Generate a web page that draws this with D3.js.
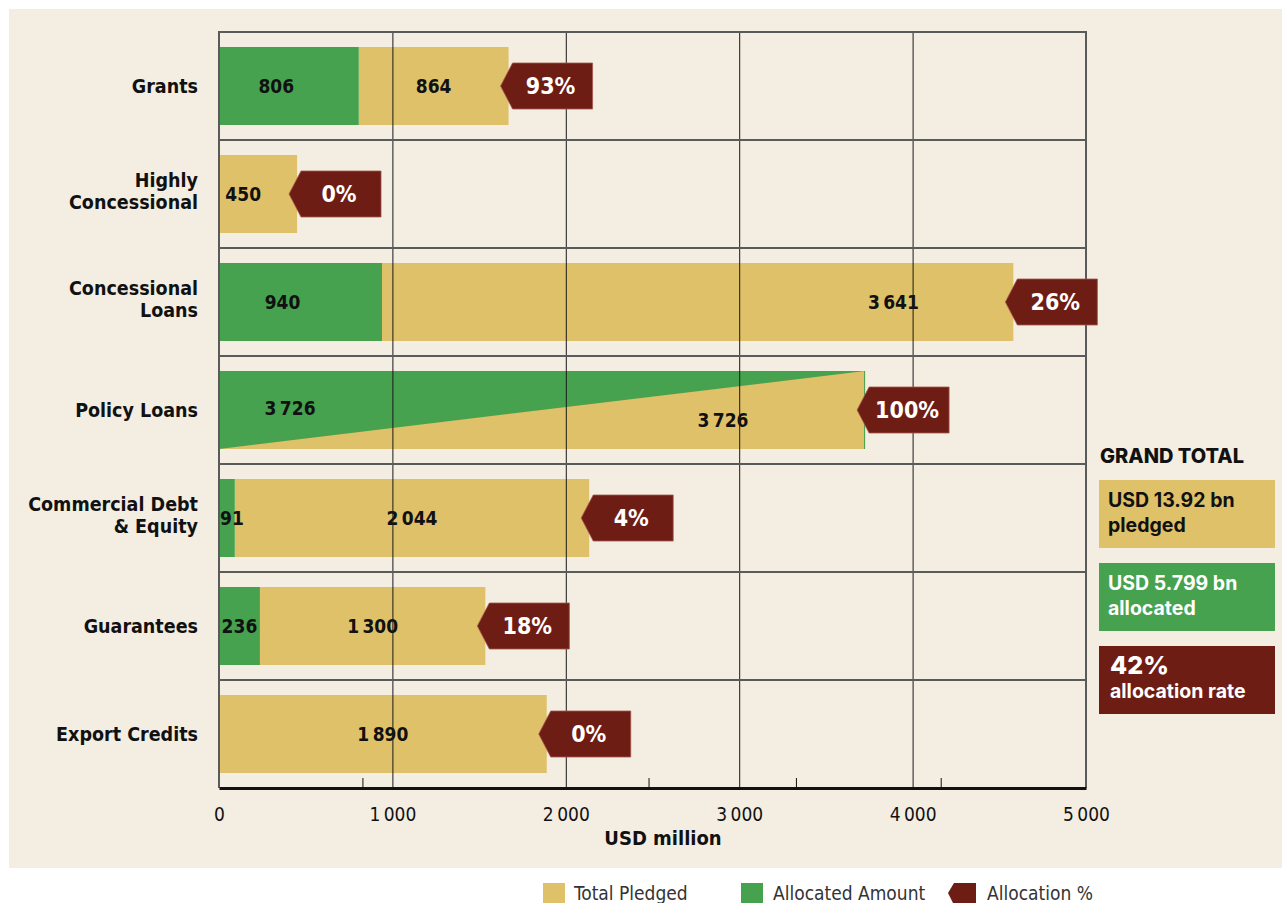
<!DOCTYPE html>
<html><head><meta charset="utf-8">
<script src="https://cdn.jsdelivr.net/npm/d3@7"></script>
<style>
body{margin:0;background:#fff;}
svg{display:block;}
</style></head><body>
<svg id="chart" width="1282" height="903"></svg>
<script>
// ---------- DATA ----------
const categories = ["Grants", "Highly Concessional", "Concessional Loans", "Policy Loans",
                    "Commercial Debt & Equity", "Guarantees", "Export Credits"];
const allocated = [806, 0, 940, 3726, 91, 236, 0];
const pledged = [864, 450, 3641, 3726, 2044, 1300, 1890];
const allocationPct = [93, 0, 26, 100, 4, 18, 0];
const xTicks = [0, 1000, 2000, 3000, 4000, 5000];
const minorTicks = [830, 2480, 3330, 4165];
const axisTitle = "USD million";
const totalsTitle = "GRAND TOTAL";
const totalPledgedText = ["USD 13.92 bn", "pledged"];
const totalAllocatedText = ["USD 5.799 bn", "allocated"];
const totalRateText = ["42%", "allocation rate"];
const legendItems = ["Total Pledged", "Allocated Amount", "Allocation %"];

// ---------- STYLE ----------
const C = {bg: "#f3ede2", yellow: "#dfc169", green: "#46a24f", red: "#6e1d15", grid: "#1a1a1a", sep: "#5a5a5a"};
const condensed = "'Liberation Sans Narrow','DejaVu Sans Condensed','Roboto Condensed',Roboto,sans-serif";
const panelFont = "Inter,'Noto Sans',sans-serif";
const wrap = {"Highly Concessional": ["Highly", "Concessional"],
              "Concessional Loans": ["Concessional", "Loans"],
              "Commercial Debt & Equity": ["Commercial Debt", "& Equity"]};
const labelFrac = {"Grants": [0.41, 0.5], "Highly Concessional": [0.5, 0.31],
                   "Concessional Loans": [0.39, 0.81], "Policy Loans": [0.11, 0.78]};
const fmt = v => d3.format(",")(v).replace(/,/g, "\u2009");

const svg = d3.select("#chart");
svg.append("rect").attr("x", 9).attr("y", 9).attr("width", 1273).attr("height", 859).attr("fill", C.bg);

const x = d3.scaleLinear().domain([0, 5000]).range([219, 1086]);
const y = d3.scaleBand().domain(categories).range([32, 788]);
const barH = 78, off = (y.bandwidth() - barH) / 2;

const rows = categories.map((c, i) => {
  const a = allocated[i], p = pledged[i];
  const full = a > 0 && a === p;
  return {c, a, p, pct: allocationPct[i], full, end: full ? p : a + p,
          top: y(c) + off, cy: y(c) + y.bandwidth() / 2};
});

const gBars = svg.append("g");
// yellow (pledged) segments
gBars.selectAll("rect.pl").data(rows).join("rect").attr("class", "pl")
  .attr("x", d => x(d.full ? 0 : d.a)).attr("y", d => d.top)
  .attr("width", d => x(d.end) - x(d.full ? 0 : d.a)).attr("height", barH)
  .attr("fill", C.yellow);
// green (allocated) stacked segments
gBars.selectAll("rect.al").data(rows.filter(d => d.a > 0 && !d.full)).join("rect").attr("class", "al")
  .attr("x", x(0)).attr("y", d => d.top)
  .attr("width", d => x(d.a) - x(0)).attr("height", barH).attr("fill", C.green);
// fully allocated: diagonal split
gBars.selectAll("path.tri").data(rows.filter(d => d.full)).join("path").attr("class", "tri")
  .attr("d", d => `M${x(0)},${d.top}L${x(d.a)},${d.top}L${x(0)},${d.top + barH}Z`)
  .attr("fill", C.green);
gBars.selectAll("line.edge").data(rows.filter(d => d.full)).join("line").attr("class", "edge")
  .attr("x1", d => x(d.a) - 0.5).attr("x2", d => x(d.a) - 0.5)
  .attr("y1", d => d.top).attr("y2", d => d.top + barH).attr("stroke", C.green).attr("stroke-width", 1);

// value labels
const labels = [];
rows.forEach(d => {
  const fr = labelFrac[d.c] || [0.5, 0.5];
  if (d.full) {
    const w = x(d.p) - x(0);
    labels.push({t: fmt(d.a), x: x(0) + w * fr[0], y: d.cy - 2, anchor: "middle"});
    labels.push({t: fmt(d.p), x: x(0) + w * fr[1], y: d.cy + 10, anchor: "middle"});
    return;
  }
  if (d.a > 0) {
    const w = x(d.a) - x(0);
    if (w < 30) labels.push({t: fmt(d.a), x: x(0) + 1, y: d.cy, anchor: "start"});
    else labels.push({t: fmt(d.a), x: x(0) + w * fr[0], y: d.cy, anchor: "middle"});
  }
  const w2 = x(d.end) - x(d.a);
  labels.push({t: fmt(d.p), x: x(d.a) + w2 * fr[1], y: d.cy, anchor: "middle"});
});
svg.append("g").selectAll("text").data(labels).join("text")
  .attr("x", d => d.x).attr("y", d => d.y).attr("dy", "0.35em")
  .attr("text-anchor", d => d.anchor)
  .attr("font-family", condensed).attr("font-weight", "bold").attr("font-size", 19)
  .attr("fill", "#111").text(d => d.t);

// vertical gridlines
svg.append("g").selectAll("line").data(xTicks.filter(v => v > 0 && v < 5000)).join("line")
  .attr("x1", d => x(d) + 0.5).attr("x2", d => x(d) + 0.5).attr("y1", 32).attr("y2", 788)
  .attr("stroke", C.grid).attr("stroke-width", 1);
// row separators
svg.append("g").selectAll("line").data(categories).join("line")
  .attr("x1", x(0)).attr("x2", x(5000)).attr("y1", d => y(d)).attr("y2", d => y(d))
  .attr("stroke", C.sep).attr("stroke-width", 2);
// frame sides
svg.append("g").selectAll("line").data([0, 5000]).join("line")
  .attr("x1", d => x(d)).attr("x2", d => x(d)).attr("y1", 31).attr("y2", 788)
  .attr("stroke", C.sep).attr("stroke-width", 2);

// badges
const badge = svg.append("g").selectAll("g").data(rows).join("g")
  .attr("transform", d => `translate(${x(d.end) - 8},${d.cy})`);
badge.append("path").attr("d", "M0,0L12,-23L92,-23L92,23L12,23Z")
  .attr("fill", C.red).attr("stroke", "#a4564c").attr("stroke-width", 0.8);
badge.append("text").attr("x", 50).attr("dy", "0.36em").attr("text-anchor", "middle")
  .attr("font-family", condensed).attr("font-weight", "bold").attr("font-size", 23)
  .attr("fill", "#fff").text(d => d.pct + "%");

// category labels
const cat = svg.append("g").selectAll("text").data(rows).join("text")
  .attr("text-anchor", "end").attr("font-family", condensed).attr("font-weight", "bold")
  .attr("font-size", 19.5).attr("fill", "#111");
cat.each(function (d) {
  const lines = wrap[d.c] || [d.c];
  const lh = 21.5, y0 = d.cy - 3 - (lines.length - 1) * lh / 2;
  const t = d3.select(this);
  lines.forEach((ln, i) => t.append("tspan").attr("x", 198).attr("y", lines.length > 1 ? y0 + i * lh : d.cy)
    .attr("dy", "0.35em").text(ln));
});

// bottom axis
const ax = svg.append("g").attr("transform", "translate(0,788)")
  .call(d3.axisBottom(x).tickValues(xTicks).tickSize(0).tickSizeOuter(0).tickFormat(fmt));
ax.select(".domain").attr("stroke", "#111").attr("stroke-width", 3);
ax.selectAll("text").attr("y", 20).attr("font-family", condensed).attr("font-size", 19).attr("fill", "#111");
svg.append("g").selectAll("line").data(minorTicks).join("line")
  .attr("x1", d => x(d)).attr("x2", d => x(d)).attr("y1", 778).attr("y2", 788)
  .attr("stroke", "#111").attr("stroke-width", 1);
svg.append("text").attr("x", 663).attr("y", 845).attr("text-anchor", "middle")
  .attr("font-family", condensed).attr("font-weight", "bold").attr("font-size", 20)
  .attr("fill", "#111").text(axisTitle);

// grand total panel
const P = svg.append("g");
P.append("text").attr("x", 1100).attr("y", 463).attr("font-family", panelFont).attr("font-weight", 800)
  .attr("font-size", 20).attr("fill", "#111").text(totalsTitle);
const boxes = [
  {y: 480, fill: C.yellow, color: "#111", lines: totalPledgedText, big: false},
  {y: 563, fill: C.green, color: "#fff", lines: totalAllocatedText, big: false},
  {y: 646, fill: C.red, color: "#fff", lines: totalRateText, big: true}
];
boxes.forEach(b => {
  P.append("rect").attr("x", 1099).attr("y", b.y).attr("width", 176).attr("height", 68).attr("fill", b.fill);
  P.append("text").attr("x", b.big ? 1110 : 1108).attr("y", b.y + (b.big ? 28 : 27))
    .attr("font-family", panelFont).attr("font-weight", b.big ? 800 : 700)
    .attr("font-size", b.big ? 25 : 19.5).attr("fill", b.color).text(b.lines[0]);
  P.append("text").attr("x", b.big ? 1110 : 1108).attr("y", b.y + 52)
    .attr("font-family", panelFont).attr("font-weight", 700)
    .attr("font-size", 19.5).attr("fill", b.color).text(b.lines[1]);
});

// legend
const L = svg.append("g");
const legX = [543, 741, 948];
L.append("rect").attr("x", legX[0]).attr("y", 883).attr("width", 22).attr("height", 22).attr("fill", C.yellow);
L.append("rect").attr("x", legX[1]).attr("y", 883).attr("width", 22).attr("height", 22).attr("fill", C.green);
L.append("path").attr("d", `M${legX[2]},893L${legX[2] + 6},883L${legX[2] + 28},883L${legX[2] + 28},905L${legX[2] + 6},905Z`)
  .attr("fill", C.red);
L.selectAll("text").data(legendItems).join("text")
  .attr("x", (d, i) => legX[i] + [31, 32, 39][i]).attr("y", 900)
  .attr("font-family", condensed).attr("font-size", 19).attr("fill", "#333").text(d => d);
</script>
</body></html>
